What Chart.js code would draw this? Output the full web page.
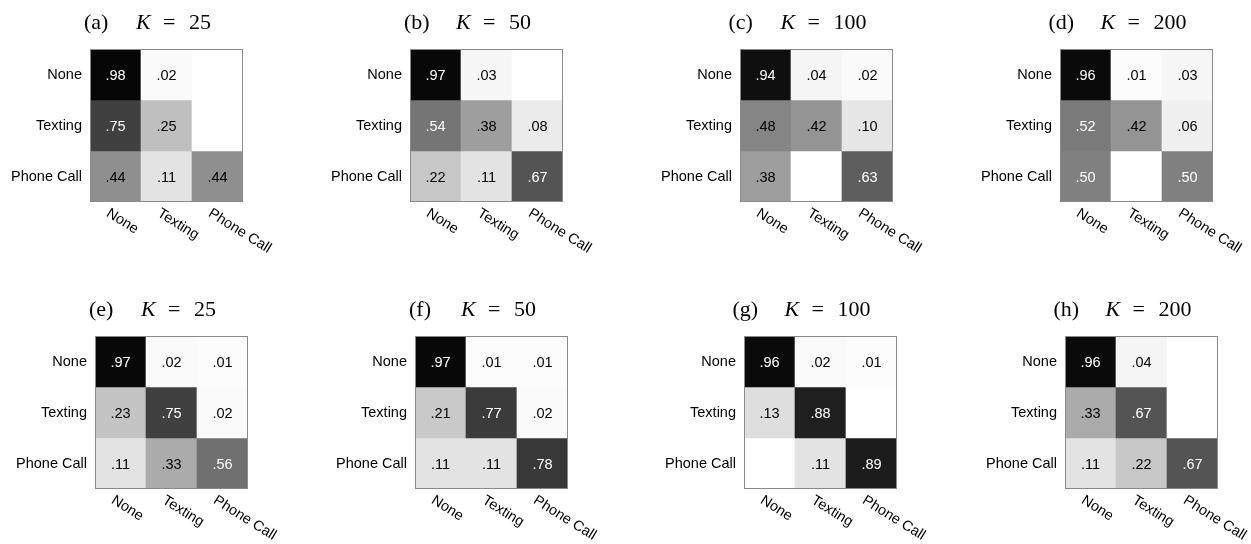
<!DOCTYPE html>
<html>
<head>
<meta charset="utf-8">
<script src="https://cdn.jsdelivr.net/npm/chart.js@4/dist/chart.umd.min.js"></script>
<style>
  body { margin: 0; background: #fff; }
  #wrap { position: relative; width: 1251px; height: 544px; overflow: hidden; }
  #wrap canvas { position: absolute; }
</style>
</head>
<body>
<div id="wrap"></div>
<script>
// rows = true class, columns = predicted class
var rowLabels = ["None", "Texting", "Phone Call"];
var colLabels = ["None", "Texting", "Phone Call"];

var panelLetters = ["a", "b", "c", "d", "e", "f", "g", "h"];
var panelK = [25, 50, 100, 200, 25, 50, 100, 200];

// confusion matrices (0 = empty cell)
var valuesA = [[.98, .02, 0], [.75, .25, 0], [.44, .11, .44]];
var valuesB = [[.97, .03, 0], [.54, .38, .08], [.22, .11, .67]];
var valuesC = [[.94, .04, .02], [.48, .42, .10], [.38, 0, .63]];
var valuesD = [[.96, .01, .03], [.52, .42, .06], [.50, 0, .50]];
var valuesE = [[.97, .02, .01], [.23, .75, .02], [.11, .33, .56]];
var valuesF = [[.97, .01, .01], [.21, .77, .02], [.11, .11, .78]];
var valuesG = [[.96, .02, .01], [.13, .88, 0], [0, .11, .89]];
var valuesH = [[.96, .04, 0], [.33, .67, 0], [.11, .22, .67]];
var panelValues = [valuesA, valuesB, valuesC, valuesD, valuesE, valuesF, valuesG, valuesH];

// where each matrix sits on the page
var matrixLeft = [90, 410, 740, 1060, 95, 415, 744, 1065];
var matrixTop = [49, 49, 49, 49, 336, 336, 336, 336];
var SIDE = 153, PAD_LEFT = 100, PAD_TOP = 49, PAD_RIGHT = 70, PAD_BOTTOM = 52;

var sansFont = "'Liberation Sans', Arial, sans-serif";
var serifFont = "'Liberation Serif', 'Times New Roman', serif";

function gray(v) {
  var g = Math.round(255 * (1 - v));
  return "rgb(" + g + "," + g + "," + g + ")";
}

function fmt(v) {
  return v.toFixed(2).replace(/^0/, "");
}

// values in cells, frame, rotated x labels and the panel title
var matrixDecor = {
  id: "matrixDecor",
  afterDraw: function (chart, args, opts) {
    var ctx = chart.ctx, area = chart.chartArea;
    ctx.save();

    ctx.font = "14.5px " + sansFont;
    ctx.textAlign = "center";
    ctx.textBaseline = "middle";
    chart.data.datasets.forEach(function (ds, r) {
      chart.getDatasetMeta(r).data.forEach(function (bar, c) {
        var v = ds.values[c];
        if (!v) return;
        var p = bar.getCenterPoint();
        ctx.fillStyle = v >= 0.5 ? "#fff" : "#000";
        ctx.fillText(fmt(v), p.x, p.y + 1);
      });
    });

    ctx.strokeStyle = "#8a8a8a";
    ctx.lineWidth = 1;
    ctx.strokeRect(area.left + 0.5, area.top + 0.5, area.width - 1, area.height - 1);

    // x tick labels, rotated clockwise
    var xs = chart.scales.x;
    ctx.fillStyle = "#000";
    ctx.textAlign = "left";
    ctx.textBaseline = "top";
    colLabels.forEach(function (lab, i) {
      ctx.save();
      ctx.translate(xs.getPixelForTick(i) - 4, area.bottom + 4);
      ctx.rotate(32 * Math.PI / 180);
      ctx.fillText(lab, 0, 0);
      ctx.restore();
    });

    // title: (x)   K = n
    var num = String(opts.k);
    ctx.textBaseline = "alphabetic";
    ctx.font = "22px " + serifFont;
    var total = 105 + ctx.measureText(num).width;
    var x0 = (area.left + area.right) / 2 - 19 - total / 2;
    var yb = area.top - 20;
    ctx.fillText("(" + opts.letter + ")", x0, yb);
    ctx.fillText("=", x0 + 79, yb);
    ctx.fillText(num, x0 + 105, yb);
    ctx.font = "italic 22px " + serifFont;
    ctx.fillText("K", x0 + 52, yb);

    ctx.restore();
  }
};

var wrap = document.getElementById("wrap");

panelValues.forEach(function (values, p) {
  var canvas = document.createElement("canvas");
  canvas.width = PAD_LEFT + SIDE + PAD_RIGHT;
  canvas.height = PAD_TOP + SIDE + PAD_BOTTOM;
  canvas.style.left = (matrixLeft[p] - PAD_LEFT) + "px";
  canvas.style.top = (matrixTop[p] - PAD_TOP) + "px";
  wrap.appendChild(canvas);

  new Chart(canvas, {
    type: "bar",
    data: {
      labels: colLabels,
      datasets: rowLabels.map(function (name, r) {
        return {
          label: name,
          data: colLabels.map(function () { return [r, r + 1]; }),
          values: values[r],
          backgroundColor: values[r].map(gray),
          borderWidth: 0,
          grouped: false,
          barPercentage: 1,
          categoryPercentage: 1
        };
      })
    },
    options: {
      responsive: false,
      animation: false,
      devicePixelRatio: 1,
      layout: { padding: { top: PAD_TOP, left: 0, right: PAD_RIGHT, bottom: PAD_BOTTOM } },
      plugins: {
        legend: { display: false },
        tooltip: { enabled: false },
        matrixDecor: { letter: panelLetters[p], k: panelK[p] }
      },
      scales: {
        x: {
          type: "category",
          grid: { display: false, drawTicks: false },
          border: { display: false },
          ticks: { display: false },
          afterFit: function (s) { s.height = 0; }
        },
        y: {
          type: "linear",
          min: 0,
          max: 3,
          reverse: true,
          grid: { display: false, drawTicks: false },
          border: { display: false },
          afterBuildTicks: function (s) {
            s.ticks = rowLabels.map(function (_, i) { return { value: i + 0.5 }; });
          },
          ticks: {
            padding: 8,
            color: "#000",
            font: { family: sansFont, size: 14.5 },
            callback: function (v) { return rowLabels[Math.floor(v)]; }
          },
          afterFit: function (s) { s.width = PAD_LEFT; }
        }
      }
    },
    plugins: [matrixDecor]
  });
});
</script>
</body>
</html>
